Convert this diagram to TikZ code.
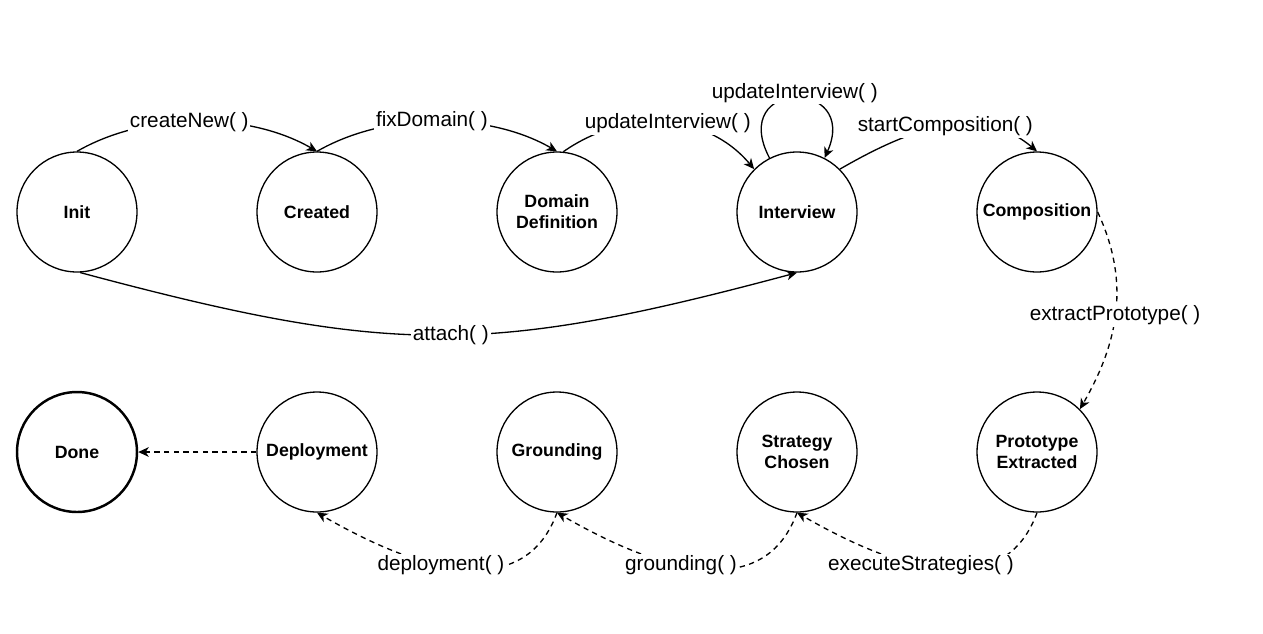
\documentclass[tikz,border=0pt]{standalone}
\usepackage{fontspec}
\setmainfont{Liberation Sans}
\usetikzlibrary{arrows.meta}

\begin{document}
\begin{tikzpicture}[x=0.02cm, y=0.02cm,
    state/.style={circle, draw, line width=0.75pt, minimum size=2.4cm, inner sep=0pt, align=center, font=\fontsize{10.1}{12}\selectfont\bfseries},
    final/.style={state, line width=1.4pt},
    trans/.style={line width=0.75pt, -{Stealth[length=6pt,width=5.5pt,inset=1.8pt]}},
    lazy/.style={trans, dash pattern=on 3pt off 2.5pt},
    call/.style={fill=white, inner sep=1pt, font=\fontsize{11.8}{14}\selectfont}]
  \useasboundingbox (0,0) rectangle (1263,-633);
  \node[state] (Init) at (77,-212) {Init};
  \node[state] (Created) at (317,-212) {Created};
  \node[state] (DomDef) at (557,-212) {Domain\\Definition};
  \node[state] (Interview) at (797,-212) {Interview};
  \node[state] (Composition) at (1037,-212) {Composition};
  \node[final] (Done) at (77,-452) {Done};
  \node[state] (Deployment) at (317,-452) {Deployment};
  \node[state] (Grounding) at (557,-452) {Grounding};
  \node[state] (Strategy) at (797,-452) {Strategy\\Chosen};
  \node[state] (Prototype) at (1037,-452) {Prototype\\Extracted};
  \draw[trans] (Init.north) to[out=30,in=150,looseness=0.85] node[call, pos=0.47] {createNew( )} (Created.north);
  \draw[trans] (Created.north) to[out=30,in=150,looseness=0.85] node[call, pos=0.48] {fixDomain( )} (DomDef.north);
  \draw[trans] (DomDef.84) to[out=35,in=130] node[call, pos=0.52] {updateInterview( )} (Interview.135);
  \draw[trans] (Interview.117) .. controls +(-42,80) and +(36,80) .. node[call, yshift=3pt] {updateInterview( )} (Interview.63);
  \draw[trans] (Interview.45) to[out=30,in=140] node[call, pos=0.52] {startComposition( )} (Composition.north);
  \draw[trans] (Init.-87) to[out=-15,in=-165,looseness=1.15] node[call, pos=0.52] {attach( )} (Interview.south);
  \draw[lazy] (Composition.east) to[out=-65,in=60] node[call, pos=0.52] {extractPrototype( )} (Prototype.45);
  \draw[lazy] (Prototype.south) to[out=-110,in=-30,looseness=1.1] node[call, pos=0.56] {executeStrategies( )} (Strategy.south);
  \draw[lazy] (Strategy.south) to[out=-110,in=-30,looseness=1.1] node[call, pos=0.56] {grounding( )} (Grounding.south);
  \draw[lazy] (Grounding.south) to[out=-110,in=-30,looseness=1.1] node[call, pos=0.56] {deployment( )} (Deployment.south);
  \draw[lazy] (Deployment.west) -- (Done.east);
\end{tikzpicture}
\end{document}
